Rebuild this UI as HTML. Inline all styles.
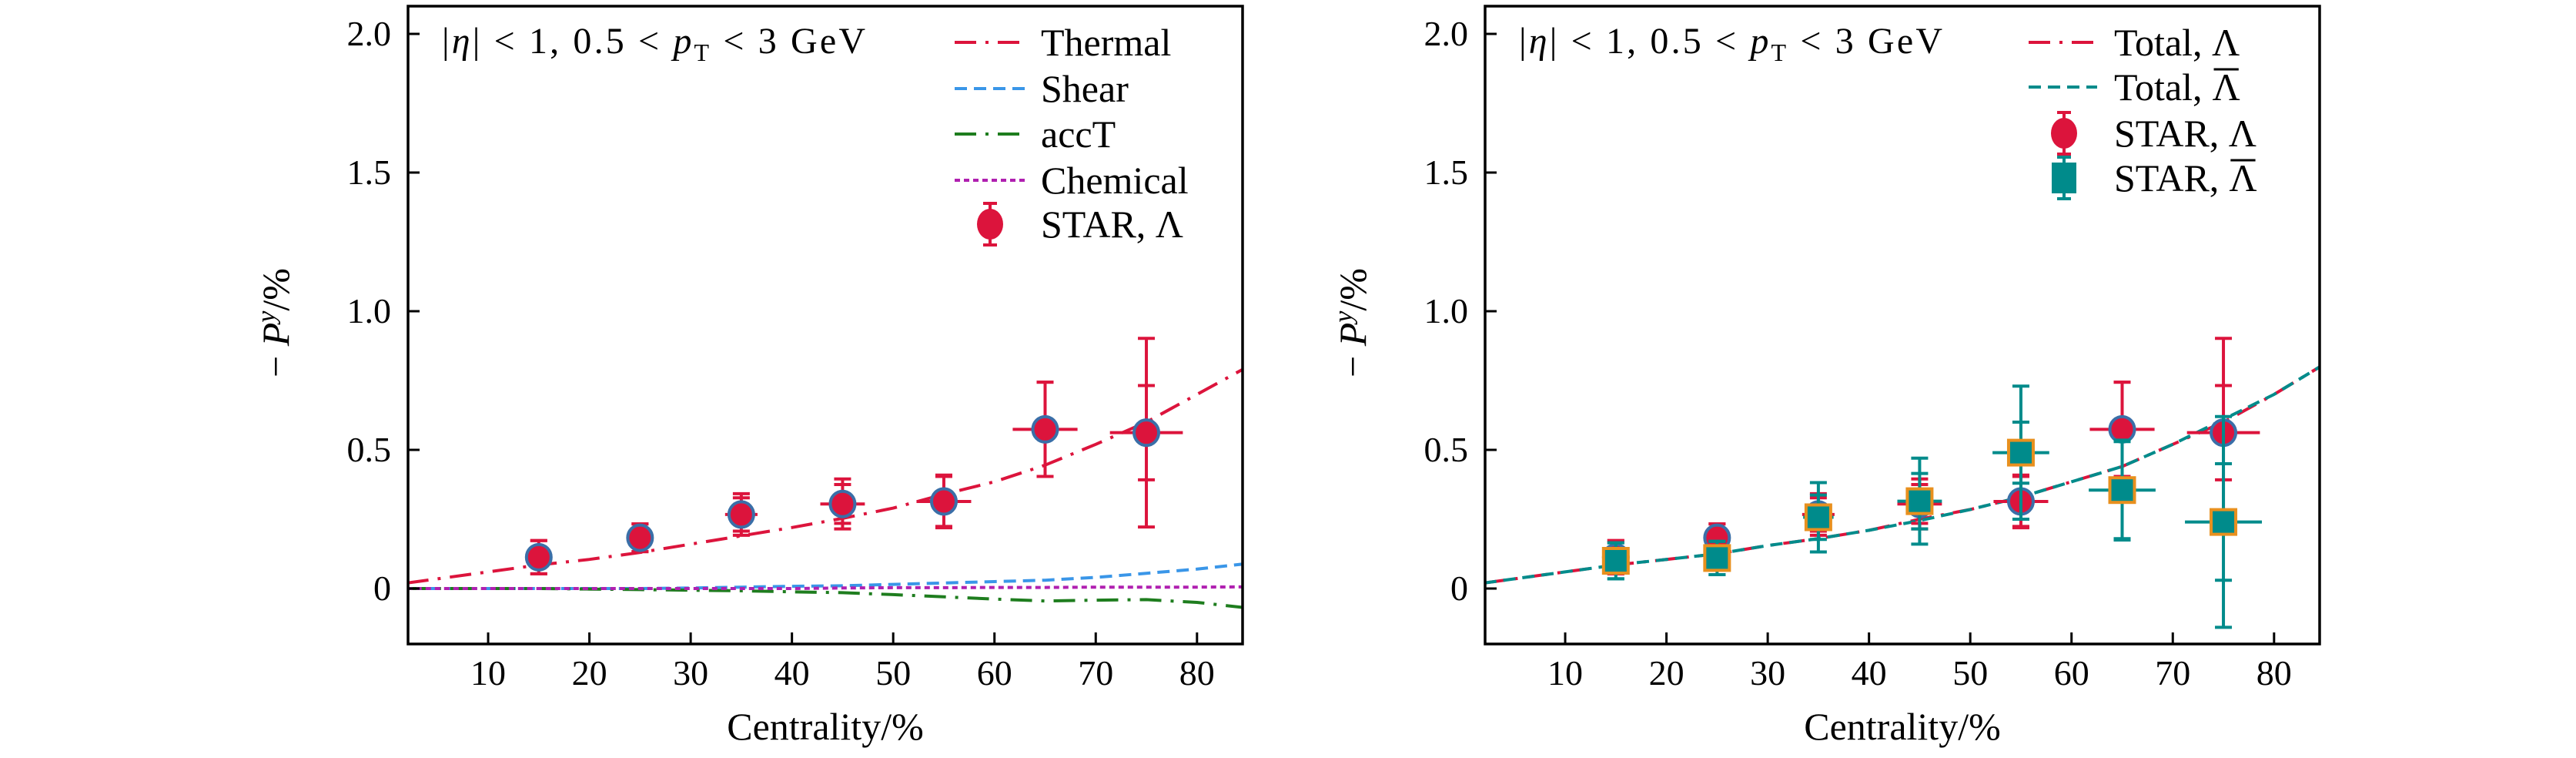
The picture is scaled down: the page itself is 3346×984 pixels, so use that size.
<!DOCTYPE html>
<html><head><meta charset="utf-8"><style>
html,body{margin:0;padding:0;background:#fff;}
svg{display:block;}
svg text{font-family:"Liberation Serif","Times New Roman",Times,"DejaVu Serif",serif;}
</style></head><body>
<svg id="fig" width="3346" height="984" viewBox="0 0 3346 984" xmlns="http://www.w3.org/2000/svg"></svg>
<script>
// ---- data ----
const centrality = [15,25,35,45,55,65,75];
const lamY = [0.113,0.183,0.267,0.305,0.314,0.574,0.562];
const lamStat = [0.06,0.05,0.06,0.07,0.09,0.17,0.17];
const lamSys = [0.06,0.05,0.075,0.09,0.095,0.17,0.34];
const lamXerr = [1.0,1.0,1.6,2.2,2.7,3.2,3.6];
const alamY = [0.10,0.11,0.257,0.315,0.49,0.355,0.24];
const alamStat = [0.065,0.06,0.08,0.10,0.11,0.175,0.21];
const alamSys = [0.065,0.06,0.125,0.155,0.24,0.18,0.38];
const alamXerr = [1.0,1.0,1.5,2.2,2.8,3.3,3.8];
const curveX = [2,10,15,20,25,30,35,40,45,50,55,60,65,70,75,80,85];
const thermalY = [0.02,0.06,0.085,0.105,0.13,0.16,0.19,0.22,0.253,0.29,0.34,0.385,0.445,0.52,0.60,0.70,0.80];
const shearY = [0,0,0,0,0,0.002,0.005,0.008,0.01,0.015,0.02,0.025,0.03,0.04,0.055,0.07,0.09];
const accTY = [0,0,0,-0.002,-0.004,-0.006,-0.008,-0.012,-0.015,-0.022,-0.03,-0.038,-0.045,-0.042,-0.04,-0.05,-0.07];
const chemY = [0,0,0,0,0,0,0,0,0.002,0.003,0.003,0.004,0.004,0.005,0.005,0.005,0.006];
const totalLamY = [0.02,0.06,0.085,0.105,0.125,0.155,0.18,0.21,0.25,0.285,0.33,0.385,0.44,0.52,0.60,0.70,0.81];
const totalAlamY = [0.02,0.06,0.085,0.105,0.125,0.155,0.18,0.21,0.245,0.285,0.33,0.385,0.44,0.52,0.61,0.70,0.81];
const xTicks = [10,20,30,40,50,60,70,80];
const yTicks = [0,0.5,1.0,1.5,2.0];
const yTickLabels = ["0","0.5","1.0","1.5","2.0"];

const NS="http://www.w3.org/2000/svg";
const svg=document.getElementById('fig');
function el(tag,attrs,parent){const e=document.createElementNS(NS,tag);for(const k in attrs)e.setAttribute(k,attrs[k]);(parent||svg).appendChild(e);return e;}

const CRIMSON="#dc143c", TEAL="#008b8b";
function panel(x0,name){
  const P={left:x0,right:x0+1084,top:8,bottom:836,xmin:2.09,xmax:84.5,ymin:-0.2,ymax:2.1};
  P.sx=v=>P.left+(v-P.xmin)/(P.xmax-P.xmin)*(P.right-P.left);
  P.sy=v=>P.bottom-(v-P.ymin)/(P.ymax-P.ymin)*(P.bottom-P.top);
  const g=el('g',{});
  
  
  P.g=g;
  const cp=el('clipPath',{id:name+'-clip'},g);
  el('rect',{x:P.left,y:P.top,width:P.right-P.left,height:P.bottom-P.top},cp);
  P.plot=el('g',{'clip-path':'url(#'+name+'-clip)'},g);
  
  
  xTicks.forEach(t=>{
    const x=P.sx(t);
    const l=el('line',{x1:x,x2:x,y1:P.bottom,y2:P.bottom-15,stroke:'#000','stroke-width':3},g);
    
    
    const tx=el('text',{x:x,y:889,'font-size':46,'text-anchor':'middle'},g);
    tx.textContent=t;
    
    
  });
  yTicks.forEach((t,i)=>{
    const y=P.sy(t);
    const l=el('line',{x1:P.left,x2:P.left+15,y1:y,y2:y,stroke:'#000','stroke-width':3},g);
    
    
    const tx=el('text',{x:P.left-22,y:y+15,'font-size':46,'text-anchor':'end'},g);
    tx.textContent=yTickLabels[i];
    
    
  });
  const fr=el('rect',{x:P.left,y:P.top,width:P.right-P.left,height:P.bottom-P.top,fill:'none',stroke:'#000','stroke-width':3.5},g);
  
  
  const xl=el('text',{x:(P.left+P.right)/2,y:960,'font-size':50,'text-anchor':'middle'},g);
  xl.textContent='Centrality/%';
  
  
  const yx=P.left-155, yy=419;
  const yl=el('text',{x:yx,y:yy,'font-size':50,'text-anchor':'middle',transform:'rotate(-90 '+yx+' '+yy+')'},g);
  yl.innerHTML='− <tspan font-style="italic">P</tspan><tspan font-style="italic" font-size="34" dy="-18">y</tspan><tspan dy="18">/%</tspan>';
  
  
  const an=el('text',{x:P.left+44,y:69,'font-size':48,'textLength':550,'lengthAdjust':'spacing'},g);
  an.innerHTML='|<tspan font-style="italic">η</tspan>| &lt; 1,  0.5 &lt; <tspan font-style="italic">p</tspan><tspan font-size="32" dy="10">T</tspan><tspan dy="-10"> &lt; 3  GeV</tspan>';
  
  
  return P;
}
function curve(P,ys,color,dash,name){
  const d=curveX.map((x,i)=>(i?'L':'M')+P.sx(x).toFixed(1)+' '+P.sy(ys[i]).toFixed(1)).join(' ');
  const p=el('path',{d:d,fill:'none',stroke:color,'stroke-width':4,'stroke-dasharray':dash},P.plot);
  
  
}
function points(P,ys,stat,sys,xerr,color,shape,name){
  centrality.forEach((c,i)=>{
    const g=el('g',{},P.plot);
    
    
    const x=P.sx(c),y=P.sy(ys[i]);
    el('line',{x1:x,x2:x,y1:P.sy(ys[i]+sys[i]),y2:P.sy(ys[i]-sys[i]),stroke:color,'stroke-width':4},g);
    el('line',{x1:P.sx(c-xerr[i]),x2:P.sx(c+xerr[i]),y1:y,y2:y,stroke:color,'stroke-width':4},g);
    [ys[i]+stat[i],ys[i]-stat[i],ys[i]+sys[i],ys[i]-sys[i]].forEach(v=>{
      el('line',{x1:x-11,x2:x+11,y1:P.sy(v),y2:P.sy(v),stroke:color,'stroke-width':4},g);
    });
    if(shape==='circle') el('ellipse',{cx:x,cy:y,rx:16,ry:16.5,fill:CRIMSON,stroke:'#3a6fa8','stroke-width':4},g);
    else el('rect',{x:x-16,y:y-16,width:32,height:32,fill:TEAL,stroke:'#e8901e','stroke-width':4},g);
  });
}
function label(g,tx,y,text,bar){
  const t=el('text',{x:tx,y:y+17,'font-size':50},g);
  t.textContent=text;
  if(bar){
    const w=t.getComputedTextLength()+13;
    const t2=el('text',{x:tx+w,y:y+17,'font-size':50},g);
    t2.textContent='Λ';
    const w2=t2.getComputedTextLength();
    el('line',{x1:tx+w+2,x2:tx+w+w2-2,y1:y-23,y2:y-23,stroke:'#000','stroke-width':3},g);
  }
}
function legendLine(P,x1,x2,y,color,dash,text,bar,tx,name){
  const g=el('g',{},P.g);
  
  
  el('line',{x1:x1,x2:x2,y1:y,y2:y,stroke:color,'stroke-width':4,'stroke-dasharray':dash},g);
  label(g,tx,y,text,bar);
}
function legendMark(P,cx,y,shape,text,bar,tx,name){
  const g=el('g',{},P.g);
  
  
  const col=shape==='circle'?CRIMSON:TEAL;
  el('line',{x1:cx,x2:cx,y1:y-27,y2:y+27,stroke:col,'stroke-width':4},g);
  el('line',{x1:cx-9,x2:cx+9,y1:y-27,y2:y-27,stroke:col,'stroke-width':4},g);
  el('line',{x1:cx-9,x2:cx+9,y1:y+27,y2:y+27,stroke:col,'stroke-width':4},g);
  if(shape==='circle') el('ellipse',{cx:cx,cy:y,rx:17,ry:20,fill:CRIMSON},g);
  else el('rect',{x:cx-16,y:y-20,width:32,height:40,fill:TEAL},g);
  label(g,tx,y,text,bar);
}
const DD='28 12 4 12', DS='16 9', DT='7 5';
const L=panel(530,'left-panel');
curve(L,thermalY,CRIMSON,DD,'thermal-curve');
curve(L,shearY,'#3a96e8',DS,'shear-curve');
curve(L,accTY,'#1e7d1e',DD,'acct-curve');
curve(L,chemY,'#b020b0',DT,'chemical-curve');
points(L,lamY,lamStat,lamSys,lamXerr,CRIMSON,'circle','star-lambda-point');
legendLine(L,1240,1331,55,CRIMSON,DD,'Thermal',false,1352,'legend-thermal');
legendLine(L,1240,1331,115,'#3a96e8',DS,'Shear',false,1352,'legend-shear');
legendLine(L,1240,1331,174,'#1e7d1e',DD,'accT',false,1352,'legend-acct');
legendLine(L,1240,1331,234,'#b020b0',DT,'Chemical',false,1352,'legend-chemical');
legendMark(L,1286,291,'circle','STAR, Λ',false,1352,'legend-star-lambda');
const R=panel(1929,'right-panel');
curve(R,totalLamY,CRIMSON,DD,'total-lambda-curve');
curve(R,totalAlamY,TEAL,DS,'total-antilambda-curve');
points(R,lamY,lamStat,lamSys,lamXerr,CRIMSON,'circle','star-lambda-point');
points(R,alamY,alamStat,alamSys,alamXerr,TEAL,'square','star-antilambda-point');
legendLine(R,2635,2724,55,CRIMSON,DD,'Total, Λ',false,2746,'legend-total-lambda');
legendLine(R,2635,2724,113,TEAL,DS,'Total,',true,2746,'legend-total-antilambda');
legendMark(R,2681,173,'circle','STAR, Λ',false,2746,'legend-star-lambda');
legendMark(R,2681,231,'square','STAR,',true,2746,'legend-star-antilambda');
</script>
</body></html>
